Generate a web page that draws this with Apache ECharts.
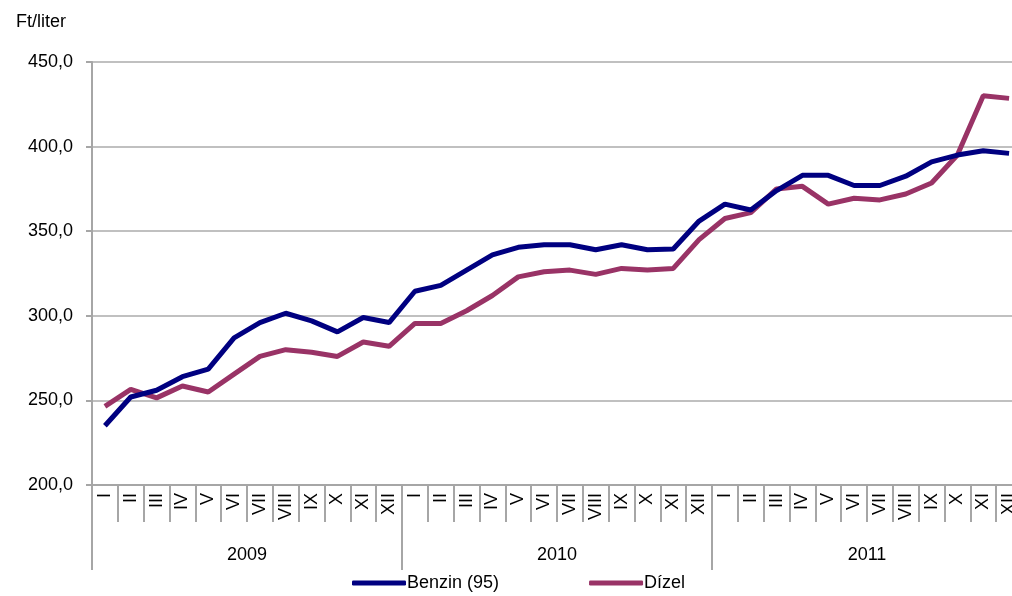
<!DOCTYPE html>
<html>
<head>
<meta charset="utf-8">
<script src="https://cdn.jsdelivr.net/npm/echarts@6/dist/echarts.min.js"></script>
<style>
  html, body { margin: 0; padding: 0; background: #fff; }
  #chart { width: 1012px; height: 596px; }
</style>
</head>
<body>
<div id="chart"></div>
<script>
// havi átlagárak, 2009-2011
var months = ['I','II','III','IV','V','VI','VII','VIII','IX','X','XI','XII'];
var years = ['2009', '2010', '2011'];
var benzin = [235, 252, 256, 264, 268.5, 287, 296, 301.5, 297, 290.5, 299, 296,
              314.5, 318, 327, 336, 340.5, 342, 342, 339, 342, 339, 339.5, 356,
              366, 362.5, 374, 383, 383, 377, 377, 382.5, 391, 395, 397.5, 396];
var dizel = [246.5, 256.5, 251.5, 258.5, 255, 265.5, 276, 280, 278.5, 276, 284.5, 282,
             295.5, 295.5, 303, 312, 323, 326, 327, 324.5, 328, 327, 328, 345,
             357.5, 361, 375, 376.5, 366, 369.5, 368.5, 372, 378.5, 395, 430, 428.5];

var monthCats = [];
years.forEach(function(y){
  months.forEach(function(m){ monthCats.push(m); });
});

var font = 'Liberation Sans, Arial, sans-serif';
var grey = '#a6a6a6';

var option = {
  animation: false,
  title: {
    text: 'Ft/liter',
    left: 11, top: 8,
    textStyle: { fontFamily: font, fontSize: 18, fontWeight: 'normal', color: '#000' }
  },
  legend: {
    left: 347, top: 569,
    itemWidth: 54, itemHeight: 5,
    itemGap: 90,
    icon: 'roundRect',
    textStyle: { fontFamily: font, fontSize: 18, color: '#000', padding: [0, 0, 0, -4] },
    data: ['Benzin (95)', 'Dízel']
  },
  grid: {
    left: 92, top: 62, bottom: 111, right: -10,
    outerBoundsMode: 'none'
  },
  xAxis: [
    {
      type: 'category',
      data: monthCats,
      position: 'bottom',
      axisLine: { show: true, lineStyle: { color: grey, width: 2 } },
      axisTick: { show: true, interval: 0, length: 37, lineStyle: { color: grey, width: 2 } },
      axisLabel: {
        interval: 0, rotate: 90, margin: 8,
        fontFamily: font, fontSize: 18, color: '#000'
      }
    },
    {
      type: 'category',
      data: years,
      position: 'bottom',
      axisLine: { show: false },
      axisTick: { show: true, interval: 0, length: 85, lineStyle: { color: grey, width: 2 } },
      axisLabel: { margin: 61, fontFamily: font, fontSize: 18, color: '#000' }
    }
  ],
  yAxis: {
    type: 'value',
    min: 200, max: 450, interval: 50,
    axisLine: { show: true, lineStyle: { color: grey, width: 2 } },
    axisTick: { show: true, length: 6, lineStyle: { color: grey, width: 2 } },
    splitLine: { show: true, lineStyle: { color: '#c0c0c0', width: 2 } },
    axisLabel: {
      margin: 19,
      fontFamily: font, fontSize: 18, color: '#000',
      formatter: function(v){ return v.toFixed(1).replace('.', ','); }
    }
  },
  series: [
    {
      name: 'Benzin (95)',
      type: 'line',
      data: benzin,
      symbol: 'none',
      color: '#000080',
      lineStyle: { width: 5, color: '#000080' },
      z: 3
    },
    {
      name: 'Dízel',
      type: 'line',
      data: dizel,
      symbol: 'none',
      color: '#993366',
      lineStyle: { width: 5, color: '#993366' },
      z: 2
    }
  ]
};

var myChart = echarts.init(document.getElementById('chart'));
myChart.setOption(option);
</script>
</body>
</html>
